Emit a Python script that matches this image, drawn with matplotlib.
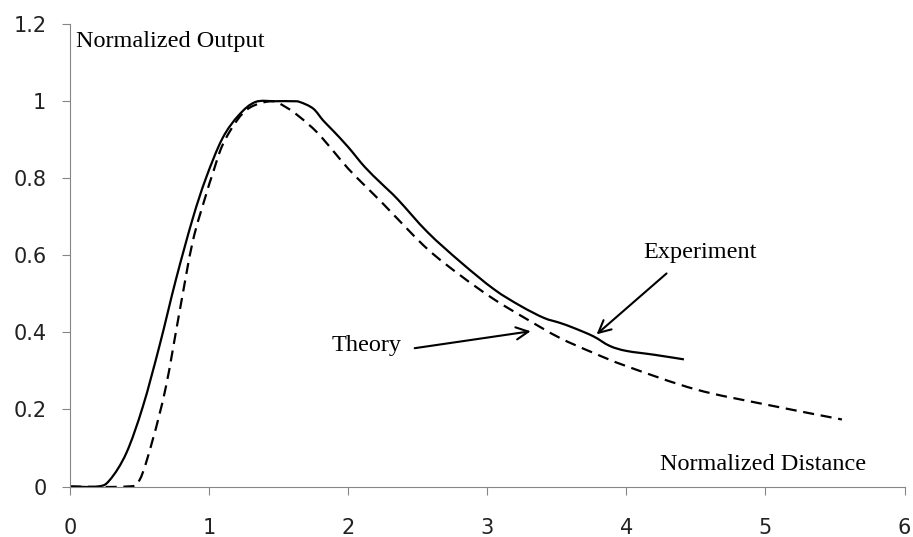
import matplotlib
matplotlib.use('Agg')
import matplotlib.pyplot as plt
from matplotlib.path import Path
from matplotlib.patches import PathPatch

# Experiment curve (solid)
exp_x = [0, 0.2, 0.286, 0.405, 0.524, 0.643, 0.762, 0.881, 0.976, 1.095, 1.214, 1.333,
         1.476, 1.595, 1.652, 1.748, 1.82, 1.89, 2.0, 2.12, 2.24, 2.357, 2.571, 2.81,
         3.048, 3.238, 3.405, 3.52, 3.619, 3.762, 3.88, 4.0, 4.2, 4.414]
exp_y = [0, 0, 0.017, 0.087, 0.208, 0.365, 0.538, 0.694, 0.799, 0.903, 0.964, 0.998,
         1.0, 1.0, 0.998, 0.981, 0.95, 0.924, 0.881, 0.829, 0.786, 0.745, 0.66, 0.582,
         0.512, 0.469, 0.438, 0.425, 0.412, 0.39, 0.365, 0.352, 0.342, 0.33]

# Theory curve (dashed)
th_x = [0, 0.405, 0.5, 0.595, 0.69, 0.786, 0.881, 0.976, 1.024, 1.095, 1.2, 1.3, 1.45,
        1.55, 1.652, 1.774, 1.89, 2.0, 2.12, 2.24, 2.333, 2.571, 2.81, 3.048, 3.286,
        3.52, 3.762, 4.0, 4.5, 5.0, 5.55]
th_y = [0, 0, 0.017, 0.122, 0.26, 0.451, 0.634, 0.755, 0.81, 0.885, 0.95, 0.985, 1.0,
        0.985, 0.959, 0.92, 0.872, 0.825, 0.781, 0.738, 0.703, 0.616, 0.547, 0.486, 0.434,
        0.386, 0.347, 0.3125, 0.252, 0.213, 0.174]


def smooth_path(xs, ys):
    # smoothed line like Excel's: Catmull-Rom segments as cubic Beziers
    pts = list(zip(xs, ys))
    verts = [pts[0]]
    codes = [Path.MOVETO]
    n = len(pts)
    for i in range(n - 1):
        p0 = pts[max(i - 1, 0)]
        p1 = pts[i]
        p2 = pts[i + 1]
        p3 = pts[min(i + 2, n - 1)]
        c1 = (p1[0] + (p2[0] - p0[0]) / 6, p1[1] + (p2[1] - p0[1]) / 6)
        c2 = (p2[0] - (p3[0] - p1[0]) / 6, p2[1] - (p3[1] - p1[1]) / 6)
        verts += [c1, c2, p2]
        codes += [Path.CURVE4] * 3
    return Path(verts, codes)


fig = plt.figure(figsize=(9.13, 5.37), dpi=100)
ax = fig.add_axes([0.0767, 0.094, 0.914, 0.861])

ax.add_patch(PathPatch(smooth_path(exp_x, exp_y), fill=False, color='black', lw=1.6))
ax.add_patch(PathPatch(smooth_path(th_x, th_y), fill=False, color='black', lw=1.6,
                       linestyle=(0, (5, 3))))

ax.set_xlim(0, 6)
ax.set_ylim(0, 1.2)
ax.set_xticks(range(0, 7))
ax.set_yticks([0, 0.2, 0.4, 0.6, 0.8, 1.0, 1.2])
ax.set_yticklabels(['0', '0.2', '0.4', '0.6', '0.8', '1', '1.2'])

for s in ['top', 'right']:
    ax.spines[s].set_visible(False)
for s in ['left', 'bottom']:
    ax.spines[s].set_color('#868686')
ax.tick_params(direction='out', color='#868686', length=6, labelsize=15)
ax.tick_params(axis='y', pad=11)
ax.tick_params(axis='x', pad=17)
for lab in ax.get_xticklabels() + ax.get_yticklabels():
    lab.set_family('DejaVu Sans')
    lab.set_color('#222222')

serif = 'Liberation Serif'
ax.text(0.04, 1.155, 'Normalized Output', fontsize=17.5, family=serif, va='center', ha='left')
ax.text(4.98, 0.058, 'Normalized Distance', fontsize=17.5, family=serif, va='center', ha='center')
ax.text(2.135, 0.366, 'Theory', fontsize=17.5, family=serif, va='center', ha='center')
ax.text(4.53, 0.608, 'Experiment', fontsize=17.5, family=serif, va='center', ha='center')

arrow = dict(arrowstyle='->', color='black', lw=1.5, mutation_scale=22, shrinkA=0, shrinkB=0)
ax.annotate('', xy=(3.312, 0.403), xytext=(2.478, 0.359), arrowprops=arrow)
ax.annotate('', xy=(3.786, 0.395), xytext=(4.289, 0.553), arrowprops=arrow)

fig.savefig('out.png', dpi=100)
